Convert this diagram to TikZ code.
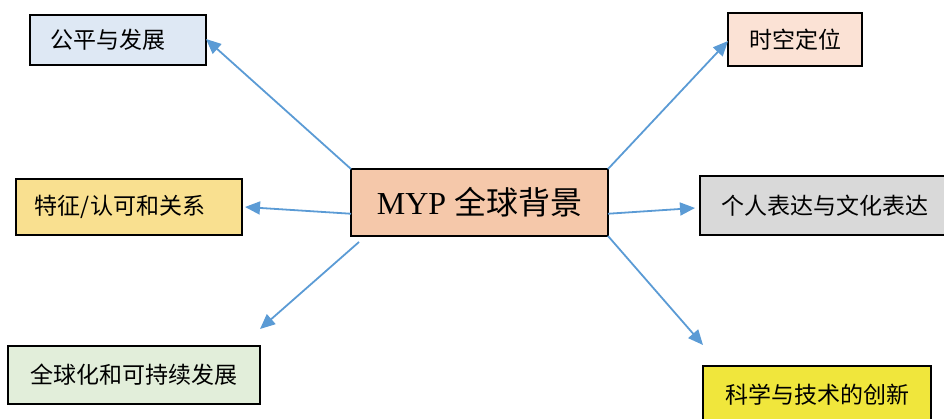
\documentclass[tikz,border=0pt]{standalone}
\usepackage{fontspec}
\setmainfont{Liberation Serif}
\newfontfamily\cjk{Noto Sans CJK SC}
\usepackage{xcolor}
\usetikzlibrary{positioning,calc,arrows.meta}

\definecolor{arrowblue}{HTML}{5B9BD5}
\definecolor{centerfill}{HTML}{F5C8AA}
\definecolor{bluefill}{HTML}{DEE8F4}
\definecolor{pinkfill}{HTML}{FBE2D5}
\definecolor{goldfill}{HTML}{F9E090}
\definecolor{grayfill}{HTML}{D9D9D9}
\definecolor{greenfill}{HTML}{E2EEDA}
\definecolor{yellowfill}{HTML}{F0E63C}

\begin{document}
\begin{tikzpicture}[x=1pt,y=1pt,
    topic/.style={draw=black, line width=1.5pt, inner sep=0pt, outer sep=0pt,
      font=\fontsize{23}{25}\selectfont\cjk},
    arr/.style={arrowblue, line width=1.8pt, -{Triangle[length=15pt,width=13pt]}}]
    \useasboundingbox (0,0) rectangle (944,418);
    % central box
    \node[topic, fill=centerfill, minimum width=257pt, minimum height=67pt,
      font=\fontsize{32}{34}\selectfont] (c) at (479.5,215.5) {MYP {\cjk 全球背景}};
    % surrounding topics
    \node[topic, fill=bluefill, minimum width=176pt, minimum height=50pt] (fair) at (118,378) {公平与发展\kern20pt};
    \node[topic, fill=pinkfill, minimum width=134pt, minimum height=53pt] (space) at (795,378.5) {时空定位};
    \node[topic, fill=goldfill, minimum width=226pt, minimum height=56pt] (ident) at (129,211) {特征/认可和关系\kern18pt};
    \node[topic, fill=grayfill, minimum width=250pt, minimum height=59pt] (expr) at (825,212.5) {个人表达与文化表达};
    \node[topic, fill=greenfill, minimum width=252pt, minimum height=58pt] (glob) at (134,43) {全球化和可持续发展};
    \node[topic, fill=yellowfill, minimum width=228pt, minimum height=58pt] (sci) at (817,23) {科学与技术的创新};
    % arrow tips
    \coordinate (t1) at (206,379);
    \coordinate (t2) at (728,377);
    \coordinate (t3) at (245,211);
    \coordinate (t4) at (695,210);
    \coordinate (t5) at (260,89);
    \coordinate (t6) at (703,73);
    \draw[arr] (c.north west) -- (t1);
    \draw[arr] (c.north east) -- (t2);
    \draw[arr] (c.185) -- (t3);
    \draw[arr] (c.-5.5) -- (t4);
    \draw[arr] ($(c.south west)+(8,-6)$) -- (t5);
    \draw[arr] (c.south east) -- (t6);
\end{tikzpicture}
\end{document}
